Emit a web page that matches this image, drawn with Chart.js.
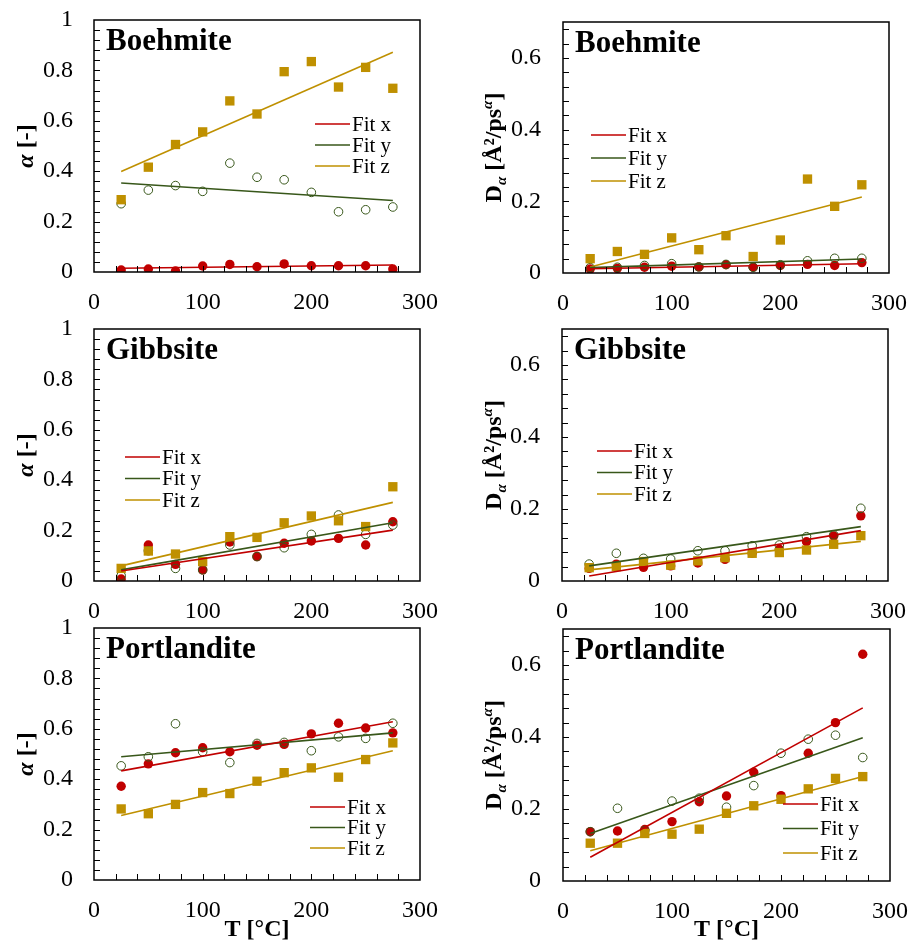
<!DOCTYPE html>
<html>
<head>
<meta charset="utf-8">
<script src="https://cdn.jsdelivr.net/npm/chart.js@4.4.1/dist/chart.umd.min.js"></script>
<style>
  body { margin: 0; background: #fff; }
  #wrap { position: relative; width: 912px; height: 946px; overflow: hidden; }
  canvas { position: absolute; }
</style>
</head>
<body>
<div id="wrap"></div>
<script>
// ---- data ----
const temps = [25, 50, 75, 100, 125, 150, 175, 200, 225, 250, 275];
const fitTemps = [25, 275];
const legendLabels = ['Fit x', 'Fit y', 'Fit z'];
const alphaTicks = [0, 0.2, 0.4, 0.6, 0.8, 1];
const dTicks = [0, 0.2, 0.4, 0.6];
const tempTicks = [0, 100, 200, 300];

// Boehmite, alpha
const boeAlphaX = [0.008, 0.012, 0.004, 0.024, 0.030, 0.021, 0.032, 0.025, 0.025, 0.025, 0.012];
const boeAlphaY = [0.271, 0.325, 0.343, 0.320, 0.432, 0.376, 0.366, 0.316, 0.239, 0.247, 0.258];
const boeAlphaZ = [0.287, 0.416, 0.506, 0.556, 0.679, 0.627, 0.795, 0.835, 0.734, 0.812, 0.729];
const boeAlphaFitX = [0.015, 0.028];
const boeAlphaFitY = [0.353, 0.284];
const boeAlphaFitZ = [0.399, 0.872];

// Boehmite, D
const boeDX = [0.011, 0.013, 0.016, 0.019, 0.017, 0.023, 0.016, 0.021, 0.024, 0.021, 0.029];
const boeDY = [0.015, 0.016, 0.021, 0.026, 0.017, 0.024, 0.016, 0.023, 0.034, 0.041, 0.041];
const boeDZ = [0.040, 0.060, 0.052, 0.098, 0.065, 0.104, 0.046, 0.092, 0.262, 0.186, 0.246];
const boeDFitX = [0.012, 0.026];
const boeDFitY = [0.015, 0.039];
const boeDFitZ = [0.017, 0.212];

// Gibbsite, alpha
const gibAlphaX = [0.008, 0.143, 0.066, 0.044, 0.155, 0.097, 0.150, 0.159, 0.169, 0.143, 0.235];
const gibAlphaY = [0.021, 0.120, 0.050, 0.044, 0.143, 0.097, 0.132, 0.185, 0.262, 0.185, 0.222];
const gibAlphaZ = [0.050, 0.119, 0.107, 0.077, 0.176, 0.173, 0.231, 0.258, 0.239, 0.216, 0.374];
const gibAlphaFitX = [0.040, 0.202];
const gibAlphaFitY = [0.044, 0.231];
const gibAlphaFitZ = [0.060, 0.312];

// Gibbsite, D
const gibDX = [0.035, 0.047, 0.038, 0.042, 0.050, 0.060, 0.077, 0.088, 0.109, 0.125, 0.181];
const gibDY = [0.047, 0.077, 0.063, 0.061, 0.084, 0.084, 0.098, 0.100, 0.123, 0.128, 0.202];
const gibDZ = [0.037, 0.040, 0.054, 0.044, 0.056, 0.065, 0.077, 0.079, 0.086, 0.102, 0.126];
const gibDFitX = [0.014, 0.140];
const gibDFitY = [0.042, 0.151];
const gibDFitZ = [0.031, 0.110];

// Portlandite, alpha
const porAlphaX = [0.372, 0.461, 0.505, 0.525, 0.509, 0.535, 0.538, 0.580, 0.622, 0.603, 0.584];
const porAlphaY = [0.453, 0.489, 0.620, 0.509, 0.466, 0.542, 0.546, 0.513, 0.568, 0.562, 0.622];
const porAlphaZ = [0.282, 0.263, 0.300, 0.347, 0.343, 0.392, 0.426, 0.445, 0.408, 0.478, 0.544];
const porAlphaFitX = [0.433, 0.628];
const porAlphaFitY = [0.489, 0.584];
const porAlphaFitZ = [0.256, 0.513];

// Portlandite, D
const porDX = [0.137, 0.139, 0.143, 0.165, 0.220, 0.236, 0.302, 0.237, 0.355, 0.440, 0.630];
const porDY = [0.137, 0.202, 0.140, 0.222, 0.230, 0.205, 0.265, 0.355, 0.394, 0.405, 0.343];
const porDZ = [0.105, 0.105, 0.132, 0.130, 0.144, 0.188, 0.209, 0.227, 0.256, 0.285, 0.290];
const porDFitX = [0.066, 0.481];
const porDFitY = [0.132, 0.398];
const porDFitZ = [0.084, 0.290];

const RED = '#C00000', GREEN = '#38571A', GOLD = '#BF9000';
const SERIF = "'Liberation Serif', 'Times New Roman', serif";

// extra drawing: frame, inner ticks, panel name, legend, y title
const decor = {
  id: 'decor',
  afterDraw(chart, args, o) {
    const ctx = chart.ctx;
    const a = chart.chartArea;
    const xs = chart.scales.x, ys = chart.scales.y;
    ctx.save();
    ctx.strokeStyle = '#000';
    ctx.lineWidth = 1;
    ctx.beginPath();
    for (let v = 0.04; v < ys.max - 1e-6; v += 0.04) {
      const y = Math.round(ys.getPixelForValue(v)) + 0.5;
      ctx.moveTo(a.left, y); ctx.lineTo(a.left + 6, y);
    }
    for (let v = 20; v < 300; v += 20) {
      const x = Math.round(xs.getPixelForValue(v)) + 0.5;
      ctx.moveTo(x, a.bottom); ctx.lineTo(x, a.bottom - 6);
    }
    ctx.stroke();
    ctx.lineWidth = 1.5;
    ctx.strokeRect(a.left, a.top, a.right - a.left, a.bottom - a.top);

    // panel name
    ctx.fillStyle = '#000';
    ctx.font = 'bold 31px ' + SERIF;
    ctx.textBaseline = 'alphabetic';
    ctx.textAlign = 'left';
    ctx.fillText(o.name, a.left + 12, a.top + 30);

    // legend
    const cols = [RED, GREEN, GOLD];
    ctx.font = '21px ' + SERIF;
    ctx.textBaseline = 'middle';
    legendLabels.forEach((lab, i) => {
      const y = o.legY + i * o.legGap;
      ctx.strokeStyle = cols[i];
      ctx.lineWidth = 1.6;
      ctx.beginPath();
      ctx.moveTo(o.legX, y); ctx.lineTo(o.legX + 35, y);
      ctx.stroke();
      ctx.fillText(lab, o.legX + 37, y + 1);
    });

    // y axis title, rotated
    const parts = o.kind === 'alpha'
      ? [['α', 'italic bold 24px', 0], [' [-]', 'bold 24px', 0]]
      : [['D', 'bold 24px', 0], ['α', 'italic bold 15px', 5], [' [Å²/ps', 'bold 24px', 0], ['α', 'italic bold 15px', -9], [']', 'bold 24px', 0]];
    let total = 0;
    parts.forEach(p => { ctx.font = p[1] + ' ' + SERIF; total += ctx.measureText(p[0]).width; });
    ctx.translate(o.yTitleX, (a.top + a.bottom) / 2);
    ctx.rotate(-Math.PI / 2);
    ctx.textBaseline = 'alphabetic';
    let x = -total / 2;
    parts.forEach(p => {
      ctx.font = p[1] + ' ' + SERIF;
      ctx.fillText(p[0], x, 8 + p[2]);
      x += ctx.measureText(p[0]).width;
    });
    ctx.restore();
  }
};

function pts(vals) { return vals.map((v, i) => ({ x: temps[i], y: v })); }
function fit(vals) { return vals.map((v, i) => ({ x: fitTemps[i], y: v })); }

const panels = [
  { name: 'Boehmite', kind: 'alpha', left: 0, top: 0, h: 320, padTop: 20, xH: 48, yW: 94, padR: 36,
    legX: 315, legY: 124, legGap: 21, yTitleX: 25, sets: [boeAlphaX, boeAlphaY, boeAlphaZ, boeAlphaFitX, boeAlphaFitY, boeAlphaFitZ] },
  { name: 'Boehmite', kind: 'D', left: 456, top: 0, h: 320, padTop: 22, xH: 47, yW: 107, padR: 23,
    legX: 135, legY: 135, legGap: 23, yTitleX: 37, sets: [boeDX, boeDY, boeDZ, boeDFitX, boeDFitY, boeDFitZ] },
  { name: 'Gibbsite', kind: 'alpha', left: 0, top: 305, h: 320, padTop: 24, xH: 44, yW: 94, padR: 36,
    legX: 125, legY: 152, legGap: 21.5, yTitleX: 25, sets: [gibAlphaX, gibAlphaY, gibAlphaZ, gibAlphaFitX, gibAlphaFitY, gibAlphaFitZ] },
  { name: 'Gibbsite', kind: 'D', left: 456, top: 305, h: 320, padTop: 24, xH: 44, yW: 106, padR: 24,
    legX: 141, legY: 146, legGap: 21.5, yTitleX: 37, sets: [gibDX, gibDY, gibDZ, gibDFitX, gibDFitY, gibDFitZ] },
  { name: 'Portlandite', kind: 'alpha', left: 0, top: 610, h: 336, padTop: 18, xH: 66, yW: 94, padR: 36,
    legX: 310, legY: 197, legGap: 20.5, yTitleX: 25, sets: [porAlphaX, porAlphaY, porAlphaZ, porAlphaFitX, porAlphaFitY, porAlphaFitZ] },
  { name: 'Portlandite', kind: 'D', left: 456, top: 610, h: 336, padTop: 19, xH: 65, yW: 107, padR: 22,
    legX: 327, legY: 194, legGap: 24.5, yTitleX: 37, sets: [porDX, porDY, porDZ, porDFitX, porDFitY, porDFitZ] }
];

const wrap = document.getElementById('wrap');
panels.forEach((p, idx) => {
  const cv = document.createElement('canvas');
  cv.width = 456; cv.height = p.h;
  cv.style.left = p.left + 'px'; cv.style.top = p.top + 'px';
  wrap.appendChild(cv);
  const isBottom = idx >= 4;
  const yMax = p.kind === 'alpha' ? 1 : 0.7;
  const yTicks = p.kind === 'alpha' ? alphaTicks : dTicks;

  new Chart(cv.getContext('2d'), {
    type: 'scatter',
    data: {
      datasets: [
        { data: fit(p.sets[3]), showLine: true, borderColor: RED, borderWidth: 1.6, pointRadius: 0, order: 1 },
        { data: fit(p.sets[4]), showLine: true, borderColor: GREEN, borderWidth: 1.6, pointRadius: 0, order: 2 },
        { data: fit(p.sets[5]), showLine: true, borderColor: GOLD, borderWidth: 1.6, pointRadius: 0, order: 3 },
        { data: pts(p.sets[2]), pointStyle: 'rect', pointRadius: 6.6, backgroundColor: GOLD, borderColor: GOLD, borderWidth: 0, order: 4 },
        { data: pts(p.sets[1]), pointStyle: 'circle', pointRadius: 4.3, backgroundColor: 'rgba(0,0,0,0)', borderColor: GREEN, borderWidth: 1, order: 5 },
        { data: pts(p.sets[0]), pointStyle: 'circle', pointRadius: 4.7, backgroundColor: RED, borderColor: RED, borderWidth: 0, order: 6 }
      ]
    },
    options: {
      responsive: false,
      animation: false,
      devicePixelRatio: 1,
      layout: { padding: { top: p.padTop, right: p.padR, left: 0, bottom: 0 } },
      scales: {
        x: {
          type: 'linear', min: 0, max: 300,
          afterBuildTicks: s => { s.ticks = tempTicks.map(v => ({ value: v })); },
          afterFit: s => { s.height = p.xH; s.paddingLeft = 0; s.paddingRight = 0; },
          grid: { display: false }, border: { display: false },
          ticks: { font: { family: SERIF, size: 24 }, color: '#000', padding: 8, maxRotation: 0 },
          title: { display: isBottom, text: 'T [°C]', color: '#000',
                   font: { family: SERIF, size: 24, weight: 'bold' }, padding: { top: 0, bottom: 2 } }
        },
        y: {
          type: 'linear', min: 0, max: yMax,
          afterBuildTicks: s => { s.ticks = yTicks.map(v => ({ value: v })); },
          afterFit: s => { s.width = p.yW; s.paddingTop = 0; s.paddingBottom = 0; },
          grid: { display: false }, border: { display: false },
          ticks: { font: { family: SERIF, size: 24 }, color: '#000', padding: p.kind === 'alpha' ? 13 : 14,
                   callback: v => String(Math.round(v * 10) / 10) }
        }
      },
      plugins: {
        legend: { display: false },
        tooltip: { enabled: false },
        decor: { name: p.name, kind: p.kind, legX: p.legX, legY: p.legY, legGap: p.legGap, yTitleX: p.yTitleX }
      }
    },
    plugins: [decor]
  });
});
</script>
</body>
</html>
